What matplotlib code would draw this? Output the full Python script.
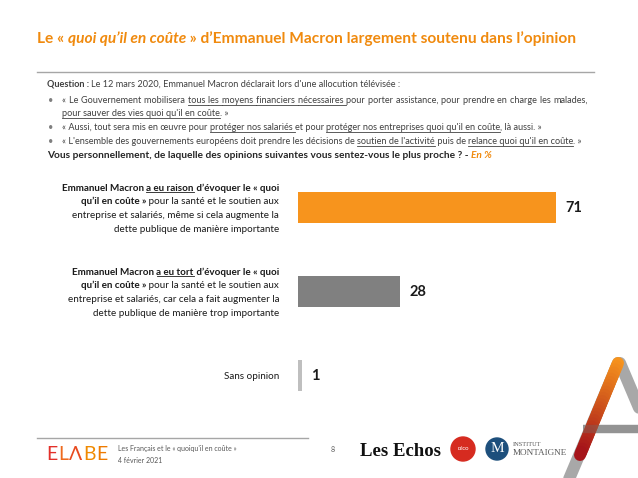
import re
import numpy as np
import matplotlib
matplotlib.use('Agg')
from matplotlib import pyplot as plt
from matplotlib.transforms import IdentityTransform
from matplotlib.patches import Circle
from matplotlib.collections import LineCollection

# donnees
categories = ["Emmanuel Macron a eu raison d’évoquer le « quoi qu’il en coûte »",
              "Emmanuel Macron a eu tort d’évoquer le « quoi qu’il en coûte »",
              "Sans opinion"]
values = [71, 28, 1]
bar_colors = ['#F7941D', '#808080', '#BFBFBF']

# libelles riches : (texte, gras, italique, souligne)
label_lines = [
    [[("Emmanuel Macron ", 1, 0, 0), ("a eu raison", 1, 0, 1), (" d’évoquer le « quoi", 1, 0, 0)],
     [("qu’il en coûte »", 1, 0, 0), (" pour la santé et le soutien aux", 0, 0, 0)],
     [("entreprise et salariés, même si cela augmente la", 0, 0, 0)],
     [("dette publique de manière importante", 0, 0, 0)]],
    [[("Emmanuel Macron ", 1, 0, 0), ("a eu tort", 1, 0, 1), (" d’évoquer le « quoi", 1, 0, 0)],
     [("qu’il en coûte »", 1, 0, 0), (" pour la santé et le soutien aux", 0, 0, 0)],
     [("entreprise et salariés, car cela a fait augmenter la", 0, 0, 0)],
     [("dette publique de manière trop importante", 0, 0, 0)]],
    [[("Sans opinion", 0, 0, 0)]],
]

W, H = 638, 478
FONT = ['Lato', 'DejaVu Sans']
plt.rcParams['font.family'] = FONT

fig = plt.figure(figsize=(W / 100, H / 100), dpi=100)
renderer = fig.canvas.get_renderer()
ident = IdentityTransform()


def seg_width(txt, **kw):
    t = fig.text(0, 0, '|' + txt + '|', transform=ident, **kw)
    w1 = t.get_window_extent(renderer).width
    t.set_text('||')
    w2 = t.get_window_extent(renderer).width
    t.remove()
    return w1 - w2


def rich(x, y, segs, size, color, ha='left', family=FONT, justify=None):
    """x, y en pixels depuis le coin haut gauche, y = ligne de base"""
    parts = []
    for seg in segs:
        txt, bold, ital, ul = seg[:4]
        col = seg[4] if len(seg) > 4 else color
        kw = dict(fontsize=size, fontweight='bold' if bold else 'normal',
                  fontstyle='italic' if ital else 'normal', color=col, family=family)
        pieces = re.findall(r'\S+\s*|\s+', txt) if justify else [txt]
        for p in pieces:
            parts.append((p, ul, kw, seg_width(p, **kw)))
    total = sum(p[3] for p in parts)
    extra = 0.0
    if justify:
        nsp = sum(p[0].count(' ') for p in parts[:-1])
        extra = (justify - total) / max(nsp, 1)
    x0 = x - total if ha == 'right' else x
    yb = H - y
    for i, (txt, ul, kw, w) in enumerate(parts):
        adv = w + (extra * txt.count(' ') if i < len(parts) - 1 else 0)
        fig.text(x0, yb, txt, transform=ident, va='baseline', ha='left', **kw)
        if ul:
            fig.add_artist(plt.Line2D([x0, x0 + adv], [yb - 1.6, yb - 1.6], transform=ident,
                                      color=kw['color'], lw=0.6))
        x0 += adv


def hline(x1, x2, y, color='#A6A6A6', lw=1.0):
    fig.add_artist(plt.Line2D([x1, x2], [H - y, H - y], transform=ident, color=color, lw=lw))


# titre
ORANGE_T = '#F08A0E'
rich(37, 43, [("Le « ", 1, 0, 0), ("quoi qu’il en coûte", 1, 1, 0),
              (" » d’Emmanuel Macron largement soutenu dans l’opinion", 1, 0, 0)],
     11.15, ORANGE_T)
hline(37, 594, 72)

# question
TXT = '#404040'
qs = 6.6
rich(47, 87, [("Question : ", 1, 0, 0), ("Le 12 mars 2020, Emmanuel Macron déclarait lors d'une allocution télévisée :", 0, 0, 0)], qs, TXT)
bullets = [
    (103, [("« Le Gouvernement mobilisera ", 0, 0, 0), ("tous les moyens financiers nécessaires ", 0, 0, 1),
           ("pour porter assistance, pour prendre en charge les malades,", 0, 0, 0)], True, 526),
    (116, [("pour sauver des vies quoi qu'il en coûte", 0, 0, 1), (". »", 0, 0, 0)], False, None),
    (130, [("« Aussi, tout sera mis en œuvre pour ", 0, 0, 0), ("protéger nos salariés ", 0, 0, 1),
           ("et pour ", 0, 0, 0), ("protéger nos entreprises quoi qu'il en coûte", 0, 0, 1),
           (", là aussi. »", 0, 0, 0)], True, None),
    (144, [("« L'ensemble des gouvernements européens doit prendre les décisions de ", 0, 0, 0),
           ("soutien de l'activité", 0, 0, 1), (" puis de ", 0, 0, 0),
           ("relance quoi qu'il en coûte", 0, 0, 1), (". »", 0, 0, 0)], True, None),
]
for yb, segs, bul, just in bullets:
    if bul:
        rich(48, yb, [("•", 0, 0, 0)], qs, '#7F7F7F')
    rich(62, yb, segs, qs, TXT, justify=just)
rich(47, 158, [("Vous personnellement, de laquelle des opinions suivantes vous sentez-vous le plus proche ? - ", 1, 0, 0),
               ("En %", 1, 1, 0, ORANGE_T)], 7.3, '#262626')

# barres
ax = fig.add_axes([298 / W, 60 / H, 322 / W, 252.5 / H])
ypos = np.arange(len(values))
ax.barh(ypos, values, height=0.37, color=bar_colors)
ax.set_xlim(0, 88.7)
ax.set_ylim(2.5, -0.5)
ax.axis('off')
for i, v in enumerate(values):
    ax.annotate(str(v), (v, i), xytext=(7, 0), textcoords='offset points', va='center', ha='left',
                fontsize=10.5, fontweight='bold', color='#1a1a1a')

# libelles des categories
lab_size = 7.1
for i, lines in enumerate(label_lines):
    cy = H - ax.transData.transform((0, i))[1]
    n = len(lines)
    for k, segs in enumerate(lines):
        yb = cy + (k - (n - 1) / 2) * 13.7 + 3.5
        rich(279, yb, segs, lab_size, '#1a1a1a', ha='right')

# pied de page
hline(37, 308, 438)
elabe_cols = ['#E3302A', '#EE6A1E', '#E84A1F', '#F08A00', '#EE7A00']
x = 46
for ch, col in zip("ELΛBE", elabe_cols):
    fig.text(x, H - 460, ch, transform=ident, fontsize=14, fontweight='normal', color=col, va='baseline')
    x += seg_width(ch, fontsize=14, fontweight='normal') + 0.8
rich(118, 451, [("Les Français et le « quoiqu'il en coûte »", 0, 0, 0)], 5, '#595959')
rich(118, 463, [("4 février 2021", 0, 0, 0)], 5, '#595959')
rich(331, 452, [("8", 0, 0, 0)], 5, '#595959')
rich(360, 456, [("Les Echos", 1, 0, 0)], 13.5, '#111111', family=['Liberation Serif'])
fig.add_artist(Circle((463, H - 449), 12, transform=ident, color='#D62B20'))
fig.text(463, H - 449, "L'ÉCO", transform=ident, fontsize=3, color='white', ha='center', va='center', fontweight='bold')
fig.add_artist(Circle((497, H - 449), 11, transform=ident, color='#1D4F7C'))
fig.text(497, H - 449, "M", transform=ident, fontsize=11, color='white', ha='center', va='center',
         family=['Liberation Serif'])
rich(513, 446, [("INSTITUT", 0, 0, 0)], 4.6, '#595959', family=['Liberation Serif'])
rich(513, 455, [("MONTAIGNE", 0, 0, 0)], 6.6, '#595959', family=['Liberation Serif'])

# logo "A"
lw_px = 12 * 0.72
gray = '#A8A8A8'
fig.add_artist(plt.Line2D([618, 556], [H - 363, H - 510], transform=ident, color=gray, lw=lw_px,
                          solid_capstyle='round'))
fig.add_artist(plt.Line2D([620, 662], [H - 363, H - 462], transform=ident, color=gray, lw=lw_px,
                          solid_capstyle='round'))
fig.add_artist(plt.Line2D([583, 645], [H - 429, H - 429], transform=ident, color=gray, lw=6,
                          solid_capstyle='butt'))
tt = np.linspace(0, 1, 30)
px = 618 + (580 - 618) * tt
py = H - (363 + (455 - 363) * tt)
pts = np.column_stack([px, py])
segs = np.stack([pts[:-1], pts[1:]], axis=1)
c0 = np.array(matplotlib.colors.to_rgb('#F7941D'))
c1 = np.array(matplotlib.colors.to_rgb('#A3101A'))
cols = [c0 + (c1 - c0) * t for t in tt[:-1]]
fig.add_artist(LineCollection(segs, colors=cols, linewidths=lw_px, capstyle='round', transform=ident))
fig.add_artist(plt.Line2D([583, 645], [H - 429, H - 429], transform=ident, color='#6E6E6E', lw=6,
                          alpha=0.35, solid_capstyle='butt'))

fig.savefig('out.png', dpi=100)
